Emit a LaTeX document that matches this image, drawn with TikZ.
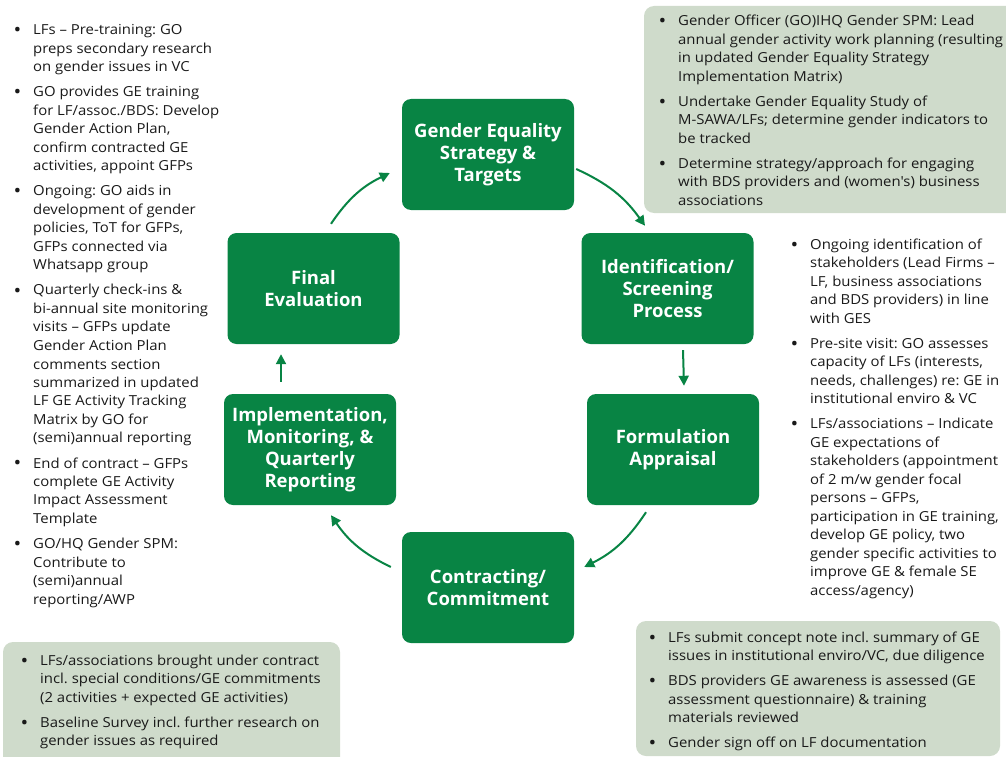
\documentclass[tikz,border=0pt]{standalone}
\usepackage{fontspec}
\setmainfont{Open Sans}
\newfontfamily\notefont{Open Sans}[FakeStretch=1.08]
\usetikzlibrary{arrows.meta,calc}
\frenchspacing

\definecolor{stepgreen}{RGB}{8,132,68}
\definecolor{notegrey}{RGB}{207,219,203}
\definecolor{bodytext}{RGB}{25,25,25}

% one bullet point with a hanging indent; lines are broken by hand with \\
\newcommand{\bitem}[1]{\par\noindent\hangindent=16pt\hangafter=1%
  \makebox[16pt][l]{\hspace{-3.5pt}\raisebox{-2pt}{\fontsize{19}{0}\selectfont •}}%
  {\let\\\newline#1}}
% a column of bullet points
\newcommand{\bulletlist}[2]{\parbox[t]{#1}{\raggedright\frenchspacing\setlength{\parskip}{6.5pt}#2}}

\tikzset{
  stepbox/.style={fill=stepgreen, rounded corners=9pt, minimum width=172pt,
    minimum height=111pt, inner sep=0pt, text=white, align=center,
    font=\bfseries\fontsize{18.5}{22}\selectfont},
  notes/.style={anchor=base west, inner sep=0pt, text=bodytext,
    font=\notefont\fontsize{13.8}{18.5}\selectfont},
  notebox/.style={fill=notegrey, rounded corners=10pt},
  flow/.style={draw=stepgreen, line width=2pt, -{Triangle[length=10pt,width=10pt]}},
}

\begin{document}
\begin{tikzpicture}[x=1pt, y=-1pt]
\useasboundingbox (0,0) rectangle (1006,757);
\clip (0,0) rectangle (1006,757);

% shaded panels behind some of the notes
\path[notebox] (644,6) rectangle (1040,213);
\path[notebox] (636,621) rectangle (1000,756);
\path[notebox] (3,642) rectangle (340,790);

% the six stages of the cycle
\node[stepbox] (gest)  at (488,154.5) {Gender Equality\\Strategy \&\\Targets};
\node[stepbox] (ident) at (667.5,288.5) {Identification/\\Screening\\Process};
\node[stepbox] (form)  at (673,449.5) {Formulation\\Appraisal};
\node[stepbox] (contr) at (488,587.5) {Contracting/\\Commitment};
\node[stepbox] (impl)  at (310,449.5) {Implementation,\\Monitoring, \&\\Quarterly\\Reporting};
\node[stepbox] (final) at (313.5,288.5) {Final\\Evaluation};

% arrows running clockwise round the cycle
\draw[flow] ($(gest.east)+(2,14.5)$) to[bend left=15] ($(ident.north)+(-22.5,-7)$);
\draw[flow] ($(ident.south)+(15.5,6)$) -- ($(form.north)+(11,-8)$);
\draw[flow] ($(form.south)+(-27,7)$) to[bend left=15] ($(contr.east)+(10,-20.5)$);
\draw[flow] ($(contr.west)+(-11,-20.5)$) to[bend left=15] ($(impl.south)+(21,10)$);
\draw[flow] ($(impl.north)+(-29,-12)$) -- ($(final.south)+(-32.5,10)$);
\draw[flow] ($(final.north)+(17.5,-9)$) to[bend left=15] ($(gest.west)+(-12,18.5)$);

% notes on the left
\node[notes] (leftnotes) at (17,35) {\bulletlist{230pt}{%
\bitem{LFs – Pre-training: GO\\preps secondary research\\on gender issues in VC}
\bitem{GO provides GE training\\for LF/assoc./BDS: Develop\\Gender Action Plan,\\confirm contracted GE\\activities, appoint GFPs}
\bitem{Ongoing: GO aids in\\development of gender\\policies, ToT for GFPs,\\GFPs connected via\\Whatsapp group}
\bitem{Quarterly check-ins \&\\bi-annual site monitoring\\visits – GFPs update\\Gender Action Plan\\comments section\\summarized in updated\\LF GE Activity Tracking\\Matrix by GO for\\(semi)annual reporting}
\bitem{End of contract – GFPs\\complete GE Activity\\Impact Assessment\\Template}
\bitem{GO/HQ Gender SPM:\\Contribute to\\(semi)annual\\reporting/AWP}}};

% notes at the top right
\node[notes] (topnotes) at (662,26) {\bulletlist{420pt}{%
\bitem{Gender Officer (GO)IHQ Gender SPM: Lead\\annual gender activity work planning (resulting\\in updated Gender Equality Strategy\\Implementation Matrix)}
\bitem{Undertake Gender Equality Study of\\M-SAWA/LFs; determine gender indicators to\\be tracked}
\bitem{Determine strategy/approach for engaging\\with BDS providers and (women's) business\\associations}}};

% notes on the right
\node[notes] (rightnotes) at (794,249) {\bulletlist{230pt}{%
\bitem{Ongoing identification of\\stakeholders (Lead Firms –\\LF, business associations\\and BDS providers) in line\\with GES}
\bitem{Pre-site visit: GO assesses\\capacity of LFs (interests,\\needs, challenges) re: GE in\\institutional enviro \& VC}
\bitem{LFs/associations – Indicate\\GE expectations of\\stakeholders (appointment\\of 2 m/w gender focal\\persons – GFPs,\\participation in GE training,\\develop GE policy, two\\gender specific activities to\\improve GE \& female SE\\access/agency)}}};

% notes at the bottom right
\node[notes] (bottomright) at (652,642) {\bulletlist{380pt}{%
\bitem{LFs submit concept note incl. summary of GE\\issues in institutional enviro/VC, due diligence}
\bitem{BDS providers GE awareness is assessed (GE\\assessment questionnaire) \& training\\materials reviewed}
\bitem{Gender sign off on LF documentation}}};

% notes at the bottom left
\node[notes] (bottomleft) at (24,665) {\bulletlist{340pt}{%
\bitem{LFs/associations brought under contract\\incl. special conditions/GE commitments\\(2 activities + expected GE activities)}
\bitem{Baseline Survey incl. further research on\\gender issues as required}}};
\end{tikzpicture}
\end{document}
